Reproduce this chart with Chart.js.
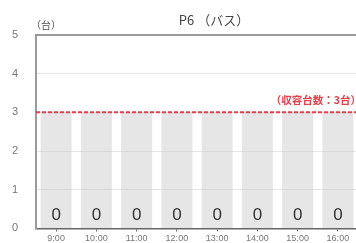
<!DOCTYPE html>
<html><head><meta charset="utf-8">
<script src="https://cdn.jsdelivr.net/npm/chart.js@4/dist/chart.umd.min.js"></script>
<style>
html,body{margin:0;padding:0;background:#fff;overflow:hidden;}
#wrap{width:356px;height:243px;overflow:hidden;position:relative;}
canvas{position:absolute;left:0;top:0;}
</style></head>
<body><div id="wrap"><canvas id="c" width="366" height="253"></canvas></div>
<script>
const categories = ['9:00','10:00','11:00','12:00','13:00','14:00','15:00','16:00'];
const parkedCounts = [0,0,0,0,0,0,0,0];
const capacityBars = [3,3,3,3,3,3,3,3];
const capacity = 3;
const titleText = 'P6 （バス）';
const unitText = '（台）';
const capacityText = '（収容台数：3台）';
const yMin = 0, yMax = 5, yStep = 1;

const FONT = '"Liberation Sans", "Noto Sans CJK JP", sans-serif';
const JP = '"Noto Sans CJK JP", "Liberation Sans", sans-serif';

const overlay = {
  id: 'overlay',
  afterDatasetsDraw(chart) {
    const ctx = chart.ctx, ca = chart.chartArea, y = chart.scales.y;
    const py = y.getPixelForValue(capacity);
    ctx.save();
    ctx.strokeStyle = '#e8404a';
    ctx.lineWidth = 2;
    ctx.setLineDash([4, 2]);
    ctx.beginPath();
    ctx.moveTo(ca.left, py);
    ctx.lineTo(ca.right, py);
    ctx.stroke();
    ctx.setLineDash([]);
    ctx.fillStyle = '#e8404a';
    ctx.font = 'bold 10.5px ' + JP;
    ctx.textAlign = 'right';
    ctx.textBaseline = 'middle';
    ctx.fillText(capacityText, 361, py - 12);
    const meta = chart.getDatasetMeta(1);
    ctx.fillStyle = '#333';
    ctx.font = '17px ' + FONT;
    ctx.textAlign = 'center';
    ctx.textBaseline = 'alphabetic';
    meta.data.forEach((bar, i) => {
      ctx.fillText(String(parkedCounts[i]), bar.x, bar.y - 8);
    });
    ctx.fillStyle = '#444';
    ctx.font = '13px ' + JP;
    ctx.textAlign = 'center';
    ctx.textBaseline = 'middle';
    ctx.fillText(titleText, 214, 20);
    ctx.fillStyle = '#555';
    ctx.font = '10px ' + JP;
    ctx.textAlign = 'left';
    ctx.fillText(unitText, 31, 25);
    ctx.restore();
  }
};

new Chart(document.getElementById('c'), {
  type: 'bar',
  data: {
    labels: categories,
    datasets: [
      { label: 'capacity', data: capacityBars, backgroundColor: 'rgba(200,200,200,0.45)',
        grouped: false, barPercentage: 0.77, categoryPercentage: 1 },
      { label: 'count', data: parkedCounts, backgroundColor: 'rgba(120,120,120,1)',
        grouped: false, barPercentage: 0.77, categoryPercentage: 1 }
    ]
  },
  options: {
    responsive: false,
    animation: false,
    events: [],
    devicePixelRatio: 1,
    layout: { padding: { top: 35, right: 8, left: 0, bottom: 0 } },
    plugins: { legend: { display: false }, title: { display: false }, tooltip: { enabled: false } },
    scales: {
      x: {
        afterFit(s) { s.height = 16; },
        grid: { drawOnChartArea: false, drawTicks: true, tickLength: 3, offset: false, color: '#666', lineWidth: 1 },
        border: { color: '#666', width: 1.5 },
        ticks: { color: '#777', font: { size: 9, family: FONT }, padding: 2, maxRotation: 0 }
      },
      y: {
        min: yMin, max: yMax,
        afterFit(s) { s.width = 36; },
        grid: {
          drawTicks: false,
          color: (c) => c.tick && c.tick.value === yMax ? '#9a9a9a' : '#e6e6e6',
          lineWidth: (c) => c.tick && c.tick.value === yMax ? 2 : 1
        },
        border: { color: '#9a9a9a', width: 2 },
        ticks: { stepSize: yStep, color: '#777', font: { size: 11, family: FONT }, padding: 18 }
      }
    }
  },
  plugins: [overlay]
});
</script></body></html>
